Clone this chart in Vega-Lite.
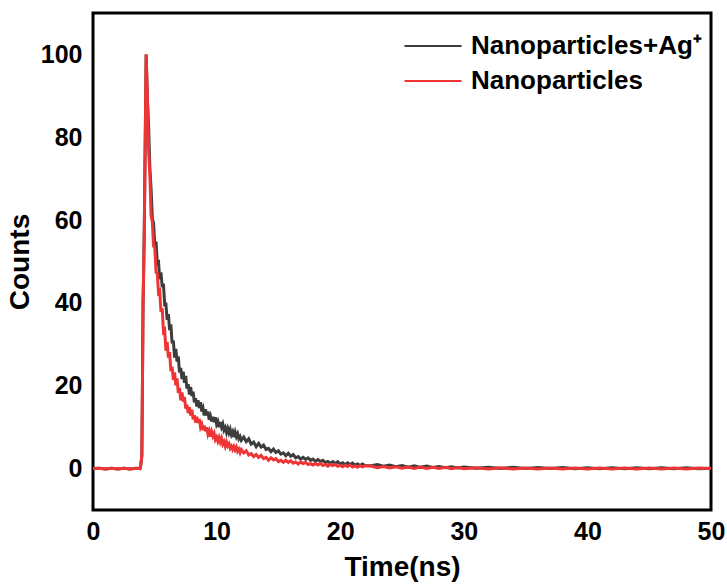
{
"$schema": "https://vega.github.io/schema/vega-lite/v6.json",
"width": 618, "height": 497,
"autosize": {"type": "none"},
"padding": {"left": 93, "top": 13, "right": 16, "bottom": 75},
"background": "white",
"config": {
  "font": "Liberation Sans",
  "view": {"stroke": "black", "strokeWidth": 3}
},
"datasets": {
"xt": [{"t":10},{"t":20},{"t":30},{"t":40}],
"yt": [{"v":0},{"v":20},{"v":40},{"v":60},{"v":80},{"v":100}],
"d": [
{"t":0,"k":0,"r":0},{"t":0.5,"k":0.1,"r":0.1},{"t":1,"k":-0.1,"r":-0.1},{"t":1.5,"k":0.1,"r":0.1},{"t":2,"k":-0.1,"r":-0.1},{"t":2.5,"k":0.1,"r":0.1},{"t":3,"k":-0.1,"r":-0.1},{"t":3.5,"k":0.1,"r":0.1},{"t":3.8,"k":0,"r":0},
{"t":3.85,"k":0.5,"r":0.5},{"t":3.95,"k":3,"r":3},{"t":4.0,"k":20,"r":20},{"t":4.05,"k":40,"r":40},{"t":4.1,"k":48,"r":48},{"t":4.15,"k":58,"r":58},{"t":4.2,"k":72,"r":72},{"t":4.25,"k":86,"r":86},{"t":4.3,"k":100,"r":100},
{"t":4.4,"k":89.3,"r":90},{"t":4.5,"k":82.6,"r":76.6},{"t":4.6,"k":72.6,"r":71},{"t":4.7,"k":67.5,"r":61},{"t":4.8,"k":60.4,"r":59.6},{"t":4.9,"k":59.3,"r":53.7},{"t":5.0,"k":53.9,"r":53.3},{"t":5.1,"k":54.8,"r":47.4},{"t":5.2,"k":49.7,"r":47.1},{"t":5.3,"k":49.9,"r":42.5},
{"t":5.4,"k":45.7,"r":42.9},{"t":5.5,"k":47.4,"r":37.8},{"t":5.6,"k":43.8,"r":38.7},{"t":5.7,"k":44.6,"r":33.1},{"t":5.8,"k":39.6,"r":33.5},{"t":5.9,"k":39.7,"r":28.5},{"t":6.0,"k":35.9,"r":30.6},{"t":6.1,"k":37.3,"r":26.8},{"t":6.2,"k":33.4,"r":28.1},{"t":6.3,"k":34.8,"r":23.5},
{"t":6.4,"k":30.2,"r":24.6},{"t":6.5,"k":30.9,"r":21.4},{"t":6.6,"k":26.8,"r":23.2},{"t":6.7,"k":28.9,"r":20.1},{"t":6.8,"k":25.8,"r":21.8},{"t":6.9,"k":27.1,"r":18.3},{"t":7.0,"k":23.2,"r":19.5},{"t":7.1,"k":24.3,"r":16.5},{"t":7.2,"k":21.6,"r":18.4},{"t":7.3,"k":23.4,"r":16.2},
{"t":7.4,"k":20.7,"r":17.3},{"t":7.5,"k":22.4,"r":14.5},{"t":7.6,"k":19.3,"r":15.4},{"t":7.7,"k":20.4,"r":13.4},{"t":7.8,"k":17.9,"r":14.8},{"t":7.9,"k":19.7,"r":12.8},{"t":8.0,"k":17.5,"r":14.2},{"t":8.1,"k":18.6,"r":11.9},{"t":8.2,"k":16.0,"r":12.9},{"t":8.3,"k":17.0,"r":11.1},
{"t":8.4,"k":15.0,"r":12.5},{"t":8.5,"k":16.5,"r":11.0},{"t":8.6,"k":14.6,"r":12.0},{"t":8.7,"k":16.0,"r":10.0},{"t":8.8,"k":13.8,"r":10.7},{"t":8.9,"k":14.6,"r":9.3},{"t":9.0,"k":12.8,"r":10.4},{"t":9.1,"k":14.3,"r":9.0},{"t":9.2,"k":12.8,"r":10.0},{"t":9.3,"k":13.8,"r":8.3},
{"t":9.4,"k":11.8,"r":9.1},{"t":9.5,"k":12.7,"r":7.7},{"t":9.6,"k":11.4,"r":8.9},{"t":9.7,"k":12.5,"r":7.8},{"t":9.8,"k":11.2,"r":8.5},{"t":9.9,"k":12.4,"r":7.0},{"t":10.0,"k":10.7,"r":7.6},{"t":10.1,"k":11.4,"r":6.6},{"t":10.2,"k":10.0,"r":7.5},{"t":10.3,"k":11.2,"r":6.4},
{"t":10.4,"k":10.0,"r":7.3},{"t":10.5,"k":10.8,"r":5.9},{"t":10.6,"k":9.3,"r":6.5},{"t":10.7,"k":9.9,"r":5.4},{"t":10.8,"k":8.7,"r":6.4},{"t":10.9,"k":9.7,"r":5.5},{"t":11.0,"k":8.6,"r":6.0},{"t":11.1,"k":9.5,"r":4.9},{"t":11.2,"k":8.2,"r":5.4},{"t":11.3,"k":8.9,"r":4.6},
{"t":11.4,"k":7.6,"r":5.3},{"t":11.5,"k":8.8,"r":4.5},{"t":11.6,"k":7.7,"r":5.2},{"t":11.7,"k":8.4,"r":4.2},{"t":11.8,"k":7.2,"r":4.7},{"t":11.9,"k":7.7,"r":3.8},{"t":12.0,"k":6.8,"r":4.6},
{"t":12.2,"k":7.6,"r":3.8},{"t":12.4,"k":6.5,"r":4.3},{"t":12.6,"k":7.2,"r":3.3},{"t":12.8,"k":5.9,"r":3.6},{"t":13.0,"k":6.4,"r":2.9},{"t":13.2,"k":5.3,"r":3.4},{"t":13.4,"k":6.1,"r":2.7},{"t":13.6,"k":5.2,"r":3.2},{"t":13.8,"k":5.7,"r":2.4},{"t":14.0,"k":4.6,"r":2.7},
{"t":14.2,"k":4.9,"r":2.0},{"t":14.4,"k":4.1,"r":2.6},{"t":14.6,"k":4.7,"r":2.1},{"t":14.8,"k":3.9,"r":2.4},{"t":15.0,"k":4.3,"r":1.7},{"t":15.2,"k":3.5,"r":2.0},{"t":15.4,"k":3.8,"r":1.5},{"t":15.6,"k":3.1,"r":2.0},{"t":15.8,"k":3.7,"r":1.5},{"t":16.0,"k":3.0,"r":1.9},
{"t":16.2,"k":3.4,"r":1.3},{"t":16.4,"k":2.6,"r":1.6},{"t":16.6,"k":2.9,"r":1.1},{"t":16.8,"k":2.3,"r":1.6},{"t":17.0,"k":2.7,"r":1.2},{"t":17.2,"k":2.2,"r":1.5},{"t":17.4,"k":2.6,"r":1.0},{"t":17.6,"k":2.0,"r":1.2},{"t":17.8,"k":2.3,"r":0.85},{"t":18.0,"k":1.7,"r":1.25},
{"t":18.2,"k":2.2,"r":0.85},{"t":18.4,"k":1.7,"r":1.25},{"t":18.6,"k":2.0,"r":0.75},{"t":18.8,"k":1.45,"r":1.0},{"t":19.0,"k":1.7,"r":0.6},{"t":19.2,"k":1.3,"r":1.0},{"t":19.4,"k":1.7,"r":0.7},{"t":19.6,"k":1.25,"r":1.0},{"t":19.8,"k":1.65,"r":0.55},{"t":20.0,"k":1.1,"r":0.8},
{"t":20.2,"k":1.4,"r":0.45},{"t":20.4,"k":0.95,"r":0.8},{"t":20.6,"k":1.4,"r":0.5},{"t":20.8,"k":1.0,"r":0.85},{"t":21.0,"k":1.35,"r":0.4},{"t":21.2,"k":0.85,"r":0.65},{"t":21.4,"k":1.1,"r":0.3},{"t":21.6,"k":0.75,"r":0.7},{"t":21.8,"k":1.1,"r":0.4},{"t":22.0,"k":0.75,"r":0.65},
{"t":22.5,"k":0.7,"r":0.6},{"t":23,"k":1.0,"r":0.2},{"t":23.5,"k":0.55,"r":0.5},{"t":24,"k":0.85,"r":0.15},{"t":24.5,"k":0.45,"r":0.45},{"t":25,"k":0.75,"r":0.1},{"t":25.5,"k":0.35,"r":0.4},{"t":26,"k":0.65,"r":0.05},{"t":26.5,"k":0.3,"r":0.35},{"t":27,"k":0.6,"r":0},
{"t":27.5,"k":0.25,"r":0.3},{"t":28,"k":0.5,"r":0},{"t":28.5,"k":0.2,"r":0.3},{"t":29,"k":0.45,"r":-0.05},{"t":29.5,"k":0.15,"r":0.25},{"t":30,"k":0.4,"r":-0.05},
{"t":31,"k":0.1,"r":0.2},{"t":32,"k":0.35,"r":-0.1},{"t":33,"k":0.05,"r":0.2},{"t":34,"k":0.3,"r":-0.1},{"t":35,"k":0,"r":0.15},{"t":36,"k":0.25,"r":-0.1},{"t":37,"k":0,"r":0.15},{"t":38,"k":0.25,"r":-0.1},{"t":39,"k":-0.05,"r":0.15},{"t":40,"k":0.2,"r":-0.1},
{"t":41,"k":-0.05,"r":0.15},{"t":42,"k":0.2,"r":-0.1},{"t":43,"k":-0.05,"r":0.15},{"t":44,"k":0.2,"r":-0.1},{"t":45,"k":-0.05,"r":0.15},{"t":46,"k":0.2,"r":-0.1},{"t":47,"k":-0.05,"r":0.15},{"t":48,"k":0.2,"r":-0.1},{"t":49,"k":-0.05,"r":0.15},{"t":50,"k":0.1,"r":0}
]},
"encoding": {
  "x": {"field": "t", "type": "quantitative", "scale": {"domain": [0, 50], "nice": false, "zero": false},
    "axis": {"values": [0, 10, 20, 30, 40, 50], "title": "Time(ns)", "titlePadding": 9, "grid": false,
      "domain": false, "ticks": false, "labelFlush": false,
      "labelFont": "Liberation Sans", "labelFontWeight": "bold", "labelFontSize": 25, "labelColor": "black", "labelPadding": 9,
      "titleFont": "Liberation Sans", "titleFontWeight": "bold", "titleFontSize": 28, "titleColor": "black"}},
  "y": {"field": "v", "type": "quantitative", "scale": {"domain": [-10, 110], "nice": false, "zero": false},
    "axis": {"values": [0, 20, 40, 60, 80, 100], "title": "Counts", "titlePadding": 6, "grid": false,
      "domain": false, "ticks": false, "labelFlush": false,
      "labelFont": "Liberation Sans", "labelFontWeight": "bold", "labelFontSize": 25, "labelColor": "black", "labelPadding": 11,
      "titleFont": "Liberation Sans", "titleFontWeight": "bold", "titleFontSize": 28, "titleColor": "black"}}
},
"layer": [
  {"data": {"name": "d"}, "transform": [{"fold": ["k", "r"], "as": ["s", "v"]}, {"filter": "datum.s == 'k'"}],
   "mark": {"type": "line", "strokeWidth": 3, "clip": true},
   "encoding": {"color": {"field": "s", "type": "nominal", "scale": {"domain": ["k", "r"], "range": ["#3d3d3d", "#ee3535"]},
    "legend": {"title": null, "orient": "none", "legendX": 327, "legendY": 20, "symbolType": "M-2.85,0H2.85", "symbolSize": 400,
      "symbolStrokeWidth": 2, "labelFont": "Liberation Sans", "labelFontSize": 26, "labelFontWeight": "bold", "labelColor": "black", "labelLimit": 0,
      "labelExpr": "datum.label == 'k' ? 'Nanoparticles+Ag⁺' : 'Nanoparticles'", "rowPadding": 9, "labelOffset": 25}}}},
  {"data": {"name": "d"}, "transform": [{"fold": ["k", "r"], "as": ["s", "v"]}, {"filter": "datum.s == 'r'"}],
   "mark": {"type": "line", "strokeWidth": 3, "clip": true},
   "encoding": {"color": {"field": "s", "type": "nominal"}}},
  {"data": {"name": "xt"}, "mark": {"type": "rule", "strokeWidth": 3.5, "color": "#000000", "opacity": 1},
   "encoding": {"x": {"field": "t", "type": "quantitative"}, "y": {"datum": -10, "type": "quantitative"}, "y2": {"datum": -7.6}}},
  {"data": {"name": "yt"}, "mark": {"type": "rule", "strokeWidth": 3.5, "color": "#000000", "opacity": 1},
   "encoding": {"y": {"field": "v", "type": "quantitative"}, "x": {"datum": 0, "type": "quantitative"}, "x2": {"datum": 0.8}}}
]
}
